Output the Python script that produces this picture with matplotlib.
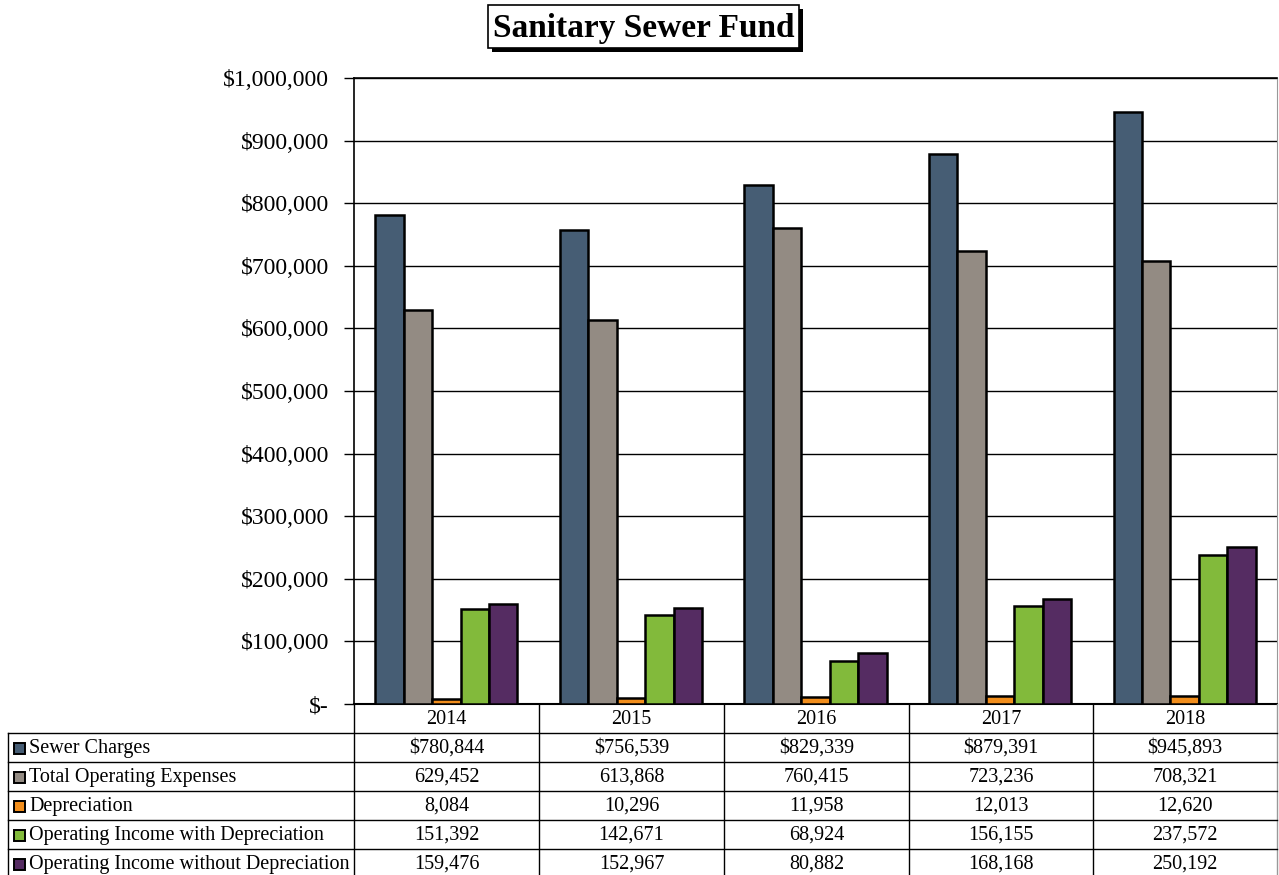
import matplotlib
matplotlib.use("Agg")
import matplotlib.pyplot as plt
from matplotlib.patches import Rectangle
from matplotlib.ticker import FuncFormatter
from matplotlib.lines import Line2D

plt.rcParams["font.family"] = ["Liberation Serif", "DejaVu Serif"]

years = ["2014", "2015", "2016", "2017", "2018"]
series_names = [
    "Sewer Charges",
    "Total Operating Expenses",
    "Depreciation",
    "Operating Income with Depreciation",
    "Operating Income without Depreciation",
]
sewer_charges = [780844, 756539, 829339, 879391, 945893]
total_operating = [629452, 613868, 760415, 723236, 708321]
depreciation = [8084, 10296, 11958, 12013, 12620]
income_with_dep = [151392, 142671, 68924, 156155, 237572]
income_without_dep = [159476, 152967, 80882, 168168, 250192]

series_values = [sewer_charges, total_operating, depreciation,
                 income_with_dep, income_without_dep]
colors = ["#465D74", "#938B83", "#F28E1C", "#82BA3B", "#552C62"]

W, H = 1279, 875
fig = plt.figure(figsize=(W / 100, H / 100), dpi=100)
fig.patch.set_facecolor("white")

# plot area in pixel terms
L, R, T, B = 354, 1277, 78, 704
ax = fig.add_axes([L / W, 1 - B / H, (R - L) / W, (B - T) / H])

bw = 0.154
for i, (vals, col) in enumerate(zip(series_values, colors)):
    xs = [k + (i - 2) * bw for k in range(len(years))]
    ax.bar(xs, vals, width=bw, color=col, edgecolor="black", linewidth=1.8,
           zorder=3)

ax.set_xlim(-0.5, len(years) - 0.5)
ax.set_ylim(0, 1000000)
ax.set_yticks(range(0, 1000001, 100000))
ax.yaxis.set_major_formatter(FuncFormatter(
    lambda v, p: "$-" if v == 0 else f"${v:,.0f}"))
ax.tick_params(axis="y", labelsize=17, length=7, width=1, direction="out",
               pad=11)
ax.set_xticks([])
ax.grid(axis="y", color="black", linewidth=1, zorder=0)
ax.spines["left"].set_linewidth(1.2)
ax.spines["top"].set_linewidth(1.2)
ax.spines["bottom"].set_linewidth(1.5)
ax.spines["right"].set_color("#999999")

# overlay axes in pixel coordinates for title and data table
ov = fig.add_axes([0, 0, 1, 1])
ov.set_xlim(0, W)
ov.set_ylim(H, 0)
ov.axis("off")
ov.patch.set_alpha(0)

# title box with drop shadow
ov.add_patch(Rectangle((492, 9), 311, 43, facecolor="black", zorder=1))
ov.add_patch(Rectangle((488, 5), 311, 43, facecolor="white",
                       edgecolor="black", linewidth=1.2, zorder=2))
ov.text(644, 29, "Sanitary Sewer Fund", ha="center", va="center",
        fontsize=24, fontweight="bold", zorder=3)

# data table
col_edges = [354, 539, 724, 909, 1093, 1277]
row_edges = [733, 762, 791, 820, 849, 878]
lc = "black"
fs = 14.5
# header row
for k, yr in enumerate(years):
    cx = (col_edges[k] + col_edges[k + 1]) / 2
    ov.text(cx, 719, yr, ha="center", va="center", fontsize=fs)
for x in col_edges[:-1]:
    ov.add_line(Line2D([x, x], [704, 878], color=lc, lw=1))
ov.add_line(Line2D([col_edges[-1], col_edges[-1]], [704, 878],
                   color="#999999", lw=1))
ov.add_line(Line2D([8, 8], [733, 878], color=lc, lw=1))
for y in row_edges[:-1]:
    ov.add_line(Line2D([8, 1277], [y, y], color=lc, lw=1))

for r, (name, vals, col) in enumerate(zip(series_names, series_values, colors)):
    cy = (row_edges[r] + row_edges[r + 1]) / 2 + 1
    ov.add_patch(Rectangle((14, cy - 6), 11, 11, facecolor=col,
                           edgecolor="black", linewidth=1.4))
    ov.text(29, cy, name, ha="left", va="center", fontsize=fs)
    for k, v in enumerate(vals):
        cx = (col_edges[k] + col_edges[k + 1]) / 2
        s = f"${v:,}" if r == 0 else f"{v:,}"
        ov.text(cx, cy, s, ha="center", va="center", fontsize=fs)

fig.savefig("out.png", dpi=100, facecolor="white")
